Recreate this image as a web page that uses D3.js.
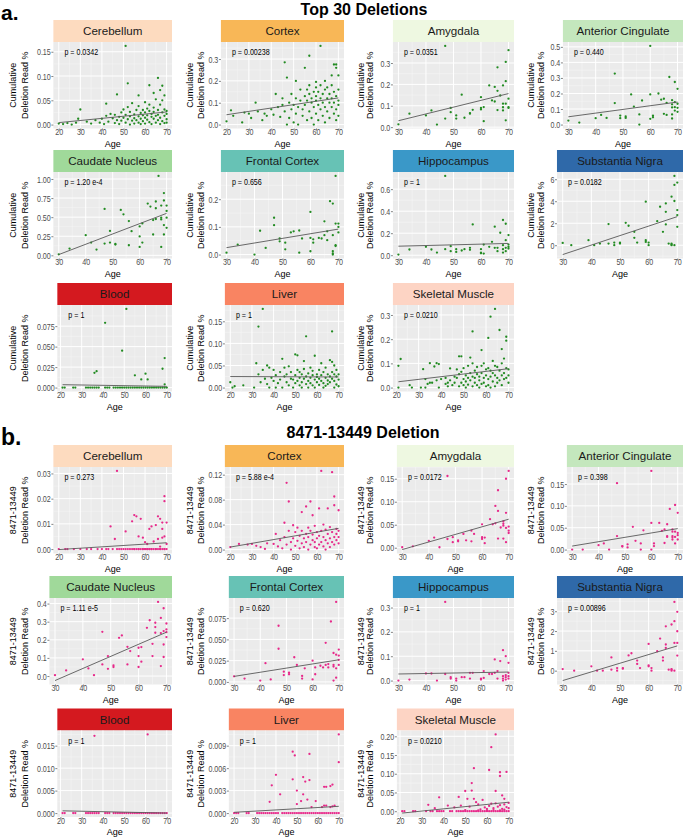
<!DOCTYPE html>
<html>
<head>
<meta charset="utf-8">
<script src="https://cdn.jsdelivr.net/npm/d3@7"></script>
<style>
body{margin:0;background:#fff;}
svg{display:block;font-family:'Liberation Sans',Arial,Helvetica,sans-serif;}
</style>
</head>
<body>
<div id="chart"></div>
<script>
// ---------- data ----------
const tissues = ['Cerebellum','Cortex','Amygdala','Anterior Cingulate','Caudate Nucleus','Frontal Cortex',
                 'Hippocampus','Substantia Nigra','Blood','Liver','Skeletal Muscle'];
const stripColors = ['#fddbbf','#f8b757','#eef8e1','#c4e7bd','#a0d99a','#67c2b5',
                     '#3a98c8','#2f69a9','#d4191f','#f98462','#fdd4c4'];

const pTop30 = ['0.0342','0.00238','0.0351','0.440','1.20 e-4','0.656','1','0.0182','1','1','0.0210'];
const pDel   = ['0.273','5.88 e-4','0.0172','0.398','1.11 e-5','0.620','1','0.00896','1','1','0.0210'];

const ageTicks = [20,30,40,50,60,70];

const yTicksTop30 = [
  ['0.00','0.05','0.10','0.15'], ['0.0','0.1','0.2','0.3'], ['0.0','0.1','0.2','0.3'],
  ['0.0','0.1','0.2','0.3','0.4','0.5'], ['0.00','0.25','0.50','0.75','1.00'], ['0.0','0.1','0.2'],
  ['0.0','0.2','0.4','0.6'], ['0','2','4','6'], ['0.000','0.025','0.050','0.075'],
  ['0.00','0.05','0.10','0.15'], ['0.0','0.1','0.2','0.3']
];
const yTicksDel = [
  ['0.00','0.01','0.02','0.03'], ['0.00','0.04','0.08','0.12'], ['0.00','0.05','0.10','0.15'],
  ['0.00','0.05','0.10','0.15'], ['0.0','0.1','0.2','0.3','0.4'], ['0.000','0.025','0.050','0.075'],
  ['0.0','0.1','0.2','0.3'], ['0','1','2','3'], ['0.000','0.005','0.010','0.015'],
  ['0.000','0.003','0.006','0.009'], ['0.00','0.05','0.10','0.15','0.20']
];

// fitted line: value at youngest age, value at oldest age
const lineTop30 = [[0.004,0.026],[0.045,0.122],[0.03,0.157],[0.05,0.145],[0.01,0.55],[0.025,0.092],
                   [0.082,0.107],[-0.85,2.6],[0.0035,0.0015],[0.025,0.024],[0.024,0.078]];
const lineDel = [[-0.0002,0.0025],[0.004,0.034],[-0.004,0.062],[0.008,0.048],[-0.025,0.242],[0.0065,0.026],
                 [0.027,0.035],[-0.5,1.25],[0.0005,0.0],[0.0001,0.0009],[-0.005,0.024]];

// [age, read %]
const t30Cerebellum = [[51,0.162],[66,0.096],[52,0.085],[62,0.081],[68,0.08],[47,0.062],[67,0.071],[69,0.06],[42,0.043],[30,0.031],[64,0.065],[57,0.06],
  [20,0.002],[22,0.001],[24,0.003],[26,0.0],[28,0.004],[29,0.012],[33,0.006],[35,0.002],[37,0.009],[39,0.004],[40,0.012],[41,0.001],[42,0.018],[43,0.006],[44,0.022],[45,0.013],[46,0.003],[46,0.02],[47,0.009],[48,0.016],[48,0.001],[49,0.025],[49,0.008],[50,0.014],[50,0.031],[51,0.004],[51,0.02],[52,0.011],[52,0.036],[53,0.0],[53,0.017],[53,0.026],[54,0.008],[54,0.044],[55,0.013],[55,0.021],[55,0.002],[56,0.03],[56,0.009],[57,0.017],[57,0.038],[57,0.004],[58,0.024],[58,0.012],[58,0.001],[59,0.03],[59,0.019],[59,0.007],[60,0.046],[60,0.014],[60,0.025],[60,0.002],[61,0.033],[61,0.01],[61,0.019],[62,0.005],[62,0.028],[62,0.041],[63,0.016],[63,0.001],[63,0.022],[64,0.012],[64,0.035],[64,0.026],[65,0.004],[65,0.018],[65,0.052],[66,0.009],[66,0.03],[66,0.02],[67,0.014],[67,0.041],[67,0.001],[68,0.025],[68,0.007],[68,0.05],[69,0.018],[69,0.031],[69,0.003],[70,0.022],[70,0.011],[70,0.028],[70,0.004]];
const t30Cortex = [[62,0.36],[57,0.315],[46,0.285],[55,0.26],[47,0.215],[68,0.275],[69,0.275],[69,0.26],[67,0.225],[70,0.225],[64,0.2],[60,0.195],[51,0.2],
  [20,0.015],[22,0.065],[23,0.04],[27,0.01],[28,0.055],[30,0.05],[31,0.03],[33,0.1],[34,0.06],[36,0.02],[37,0.05],[38,0.04],[40,0.07],[41,0.045],[42,0.14],[43,0.08],[44,0.035],[45,0.09],[45,0.12],[46,0.06],[47,0.0],[48,0.1],[48,0.03],[49,0.07],[49,0.14],[50,0.01],[50,0.09],[51,0.05],[51,0.12],[52,0.0],[52,0.08],[53,0.16],[53,0.11],[54,0.04],[54,0.07],[55,0.13],[55,0.09],[56,0.02],[56,0.16],[56,0.11],[57,0.06],[57,0.14],[57,0.18],[58,0.03],[58,0.1],[58,0.12],[59,0.08],[59,0.15],[59,0.0],[60,0.05],[60,0.11],[60,0.17],[60,0.13],[61,0.09],[61,0.02],[61,0.15],[62,0.07],[62,0.12],[62,0.18],[63,0.04],[63,0.1],[63,0.14],[64,0.08],[64,0.16],[64,0.01],[65,0.12],[65,0.06],[65,0.17],[66,0.1],[66,0.03],[66,0.14],[67,0.08],[67,0.18],[67,0.12],[68,0.05],[68,0.15],[68,0.1],[69,0.07],[69,0.13],[69,0.02],[70,0.09],[70,0.16],[70,0.11],[70,0.04]];
const t30Amygdala = [[30,0.013],[34,0.063],[40,0.055],[42,0.078],[44,0.012],[47,0.38],[47,0.04],[49,0.07],[49,0.09],[51,0.055],[51,0.04],[53,0.152],[54,0.044],[56,0.066],[56,0.063],[57,0.081],[60,0.14],[60,0.09],[60,0.083],[61,0.094],[61,0.028],[63,0.195],[64,0.125],[65,0.12],[65,0.188],[66,0.28],[66,0.17],[66,0.08],[67,0.148],[68,0.195],[68,0.093],[68,0.078],[68,0.11],[69,0.305],[69,0.215],[69,0.11],[69,0.032],[70,0.36],[70,0.133],[70,0.094],[70,0.09]];
const t30AntCing = [[30,0.026],[34,0.013],[40,0.041],[42,0.062],[44,0.043],[47,0.328],[47,0.138],[49,0.058],[49,0.041],[51,0.052],[51,0.043],[53,0.194],[54,0.116],[56,0.065],[56,0.0],[57,0.155],[60,0.506],[60,0.194],[60,0.037],[61,0.058],[61,0.047],[63,0.2],[64,0.16],[65,0.166],[65,0.069],[66,0.14],[66,0.062],[67,0.306],[68,0.157],[68,0.13],[68,0.11],[68,0.065],[68,0.039],[69,0.274],[69,0.144],[69,0.112],[69,0.09],[70,0.23],[70,0.134],[70,0.108],[70,0.082]];
const t30Caudate = [[30,0.013],[34,0.088],[40,0.264],[42,0.167],[44,0.075],[47,0.608],[47,0.154],[49,0.32],[49,0.167],[51,0.15],[51,0.141],[53,0.595],[54,0.537],[56,0.449],[56,0.132],[57,0.317],[60,0.379],[60,0.247],[60,0.11],[61,0.167],[61,0.418],[63,0.678],[64,0.639],[65,0.273],[65,0.462],[66,0.705],[66,0.617],[66,0.476],[67,1.04],[68,0.652],[68,0.11],[68,0.493],[68,0.47],[69,0.815],[69,0.718],[69,0.396],[69,0.273],[70,0.652],[70,0.581],[70,0.493],[70,0.36]];
const t30Frontal = [[30,0.007],[34,0.036],[40,0.0],[42,0.086],[44,0.024],[47,0.133],[47,0.106],[49,0.058],[49,0.048],[51,0.043],[51,0.019],[53,0.08],[54,0.084],[56,0.087],[56,0.007],[57,0.058],[60,0.154],[60,0.06],[60,0.012],[61,0.055],[61,0.043],[63,0.06],[64,0.058],[65,0.12],[65,0.07],[66,0.084],[66,0.052],[67,0.193],[68,0.184],[68,0.07],[68,0.012],[68,0.004],[68,0.0],[69,0.284],[69,0.112],[69,0.034],[69,0.031],[70,0.112],[70,0.1],[70,0.08]];
const t30Hippo = [[30,0.006],[34,0.052],[40,0.076],[42,0.052],[44,0.024],[47,0.72],[47,0.055],[49,0.082],[49,0.037],[51,0.055],[51,0.03],[53,0.043],[54,0.055],[56,0.067],[56,0.049],[57,0.28],[60,0.055],[60,0.024],[60,0.018],[61,0.015],[61,0.097],[63,0.076],[64,0.122],[65,0.259],[65,0.067],[66,0.067],[66,0.037],[67,0.204],[68,0.32],[68,0.091],[68,0.055],[68,0.024],[69,0.286],[69,0.137],[69,0.067],[69,0.037],[70,0.183],[70,0.097],[70,0.076],[70,0.061]];
const t30SN = [[30,0.21],[33,0.0],[39,0.46],[41,0.0],[43,0.15],[46,1.92],[46,0.15],[48,0.24],[48,0.0],[50,0.24],[50,0.15],[52,2.04],[53,1.77],[55,1.22],[55,0.67],[56,0.24],[59,3.96],[59,0.46],[59,0.3],[60,0.24],[60,0.0],[63,2.19],[64,3.5],[65,1.22],[66,3.04],[66,1.89],[66,3.8],[67,0.15],[68,4.41],[68,0.15],[68,0.0],[68,0.06],[69,6.3],[69,5.48],[69,4.02],[69,0.0],[70,5.7],[70,3.2],[70,2.74],[70,1.67]];
const t30Blood = [[21,0],[22,0],[26,0],[27,0],[32,0],[33,0],[34,0],[35,0],[36,0.018],[37,0.02],[36,0],[37,0],[38,0],[41,0.079],[41,0],[42,0],[43,0],[45,0],[46,0],[47,0],[48,0],[49,0.045],[49,0],[50,0],[51,0.096],[51,0],[52,0],[53,0],[54,0],[55,0.015],[55,0],[56,0],[57,0],[58,0.01],[58,0],[59,0],[60,0.017],[60,0],[61,0.01],[61,0],[62,0],[63,0],[64,0],[65,0],[66,0],[67,0],[68,0.023],[68,0],[69,0.036],[69,0.004],[69,0],[70,0]];
const t30Liver = [[20,0.012],[21,0.0],[22,0.003],[26,0.005],[31,0.0],[32,0.055],[33,0.138],[33,0.03],[34,0.012],[35,0.178],[35,0.04],[36,0.02],[37,0.05],[37,0.008],[38,0.0],[38,0.045],[39,0.022],[40,0.015],[40,0.04],[41,0.0],[41,0.028],[42,0.01],[43,0.035],[43,0.018],[44,0.065],[44,0.0],[45,0.045],[45,0.025],[46,0.012],[46,0.03],[47,0.048],[47,0.005],[48,0.02],[48,0.035],[49,0.0],[49,0.018],[50,0.075],[50,0.028],[50,0.01],[51,0.073],[51,0.04],[51,0.015],[52,0.022],[52,0.005],[52,0.035],[53,0.012],[53,0.03],[53,0.0],[54,0.06],[54,0.02],[54,0.042],[55,0.116],[55,0.008],[55,0.025],[56,0.032],[56,0.015],[56,0.0],[57,0.045],[57,0.022],[57,0.01],[58,0.028],[58,0.005],[58,0.038],[59,0.072],[59,0.018],[59,0.0],[60,0.03],[60,0.012],[60,0.024],[61,0.04],[61,0.006],[61,0.02],[62,0.055],[62,0.015],[62,0.028],[63,0.0],[63,0.035],[63,0.01],[64,0.022],[64,0.045],[64,0.004],[65,0.03],[65,0.016],[65,0.008],[66,0.062],[66,0.025],[66,0.012],[67,0.127],[67,0.058],[67,0.02],[67,0.035],[68,0.05],[68,0.03],[68,0.0],[68,0.015],[69,0.025],[69,0.04],[69,0.007],[70,0.018],[70,0.03],[70,0.003]];
const t30Muscle = [[21,0.09],[21,0.0],[22,0.118],[26,0.01],[27,0.0],[31,0.0],[32,0.076],[33,0.035],[33,0.0],[34,0.015],[35,0.101],[35,0.02],[36,0.02],[37,0.087],[38,0.101],[38,0.03],[39,0.097],[39,0.0],[40,0.035],[42,0.04],[42,0.015],[43,0.02],[43,0.005],[44,0.079],[44,0.03],[45,0.01],[46,0.045],[46,0.02],[47,0.075],[47,0.04],[48,0.129],[48,0.055],[48,0.005],[49,0.129],[49,0.065],[49,0.02],[50,0.035],[50,0.01],[50,0.08],[51,0.05],[51,0.0],[51,0.025],[52,0.09],[52,0.04],[52,0.012],[53,0.124],[53,0.06],[53,0.03],[54,0.232],[54,0.1],[54,0.045],[54,0.005],[55,0.07],[55,0.02],[55,0.04],[56,0.055],[56,0.085],[56,0.01],[57,0.045],[57,0.03],[57,0.0],[58,0.155],[58,0.09],[58,0.06],[58,0.015],[59,0.1],[59,0.04],[59,0.02],[60,0.075],[60,0.05],[60,0.005],[61,0.205],[61,0.08],[61,0.035],[61,0.01],[62,0.293],[62,0.07],[62,0.045],[62,0.0],[63,0.11],[63,0.06],[63,0.025],[64,0.325],[64,0.09],[64,0.05],[64,0.005],[65,0.085],[65,0.04],[65,0.02],[66,0.238],[66,0.07],[66,0.03],[67,0.159],[67,0.1],[67,0.05],[67,0.01],[68,0.12],[68,0.06],[68,0.035],[69,0.21],[69,0.194],[69,0.08],[69,0.04],[70,0.075],[70,0.05],[70,0.02]];

const delCerebellum = [[47,0.031],[69,0.021],[69,0.019],[55,0.0135],[56,0.013],[58,0.012],[66,0.013],[67,0.012],[68,0.0105],[70,0.0105],[65,0.0095],[63,0.009],[44,0.009],[54,0.011],[51,0.007],[57,0.005],[62,0.008],[46,0.004],[59,0.0045],[60,0.0027],[68,0.008],[68,0.0045],[69,0.005],[70,0.002],[64,0.003],[61,0.002],[66,0.004],[67,0.001],
  [20,0],[23,0],[24,0],[27,0],[30,0],[33,0],[35,0],[38,0],[40,0],[42,0],[43,0],[45,0],[47,0],[48,0],[49,0],[50,0],[51,0],[52,0],[53,0],[54,0],[55,0],[56,0],[57,0],[58,0],[59,0],[60,0],[61,0],[62,0],[63,0],[64,0],[65,0],[66,0],[67,0],[68,0],[69,0],[70,0],[55,0],[57,0],[59,0],[61,0],[63,0],[65,0],[67,0],[69,0],[60,0],[62,0]];
const delCortex = [[20,0.004],[24,0.009],[28,0.008],[30,0.009],[32,0.006],[34,0.004],[36,0.001],[37,0.01],[40,0.009],[41,0.025],[42,0.005],[43,0.015],[44,0.002],[45,0.043],[45,0.02],[46,0.107],[46,0.008],[47,0.077],[47,0.03],[48,0.012],[48,0.0],[49,0.039],[49,0.018],[50,0.006],[50,0.028],[51,0.014],[51,0.035],[52,0.002],[52,0.022],[53,0.06],[53,0.01],[53,0.03],[54,0.018],[54,0.004],[55,0.069],[55,0.025],[55,0.012],[56,0.035],[56,0.0],[56,0.02],[57,0.077],[57,0.008],[57,0.03],[58,0.055],[58,0.015],[58,0.024],[59,0.004],[59,0.038],[59,0.012],[60,0.028],[60,0.018],[60,0.002],[61,0.066],[61,0.022],[61,0.008],[62,0.126],[62,0.03],[62,0.012],[63,0.04],[63,0.005],[63,0.02],[64,0.032],[64,0.015],[64,0.0],[65,0.066],[65,0.025],[65,0.01],[66,0.036],[66,0.018],[66,0.004],[67,0.124],[67,0.028],[67,0.012],[68,0.085],[68,0.071],[68,0.02],[68,0.008],[69,0.033],[69,0.015],[69,0.025],[70,0.063],[70,0.03],[70,0.01],[70,0.02]];
const delAmygdala = [[30,0.001],[34,0.003],[40,0.015],[42,0.022],[44,0.001],[47,0.156],[47,0.019],[49,0.023],[49,0.012],[51,0.016],[51,0.014],[53,0.03],[54,0.016],[56,0.037],[56,0.014],[57,0.03],[60,0.051],[60,0.019],[60,0.023],[61,0.022],[61,0.01],[63,0.062],[64,0.051],[65,0.091],[65,0.053],[66,0.125],[66,0.08],[66,0.02],[67,0.044],[68,0.057],[68,0.052],[68,0.048],[68,0.02],[69,0.15],[69,0.076],[69,0.043],[69,0.012],[70,0.167],[70,0.046],[70,0.037],[70,0.032]];
const delAntCing = [[30,0.0],[34,0.0],[40,0.01],[42,0.014],[44,0.0],[47,0.152],[47,0.031],[49,0.008],[49,0.007],[51,0.012],[51,0.005],[53,0.052],[54,0.02],[56,0.014],[56,0.0],[57,0.044],[60,0.18],[60,0.061],[60,0.0],[61,0.014],[61,0.008],[63,0.061],[64,0.043],[65,0.046],[65,0.015],[66,0.058],[66,0.031],[66,0.029],[67,0.093],[68,0.046],[68,0.041],[68,0.031],[68,0.028],[68,0.023],[69,0.102],[69,0.041],[69,0.014],[69,0.029],[70,0.084],[70,0.038],[70,0.033],[70,0.023]];
const delCaudate = [[30,0.005],[34,0.031],[40,0.092],[42,0.042],[44,0.005],[47,0.244],[47,0.064],[49,0.11],[49,0.04],[51,0.059],[51,0.05],[53,0.211],[54,0.224],[56,0.161],[56,0.064],[57,0.138],[60,0.156],[60,0.11],[60,0.05],[61,0.16],[61,0.079],[63,0.266],[64,0.308],[65,0.178],[65,0.11],[66,0.294],[66,0.27],[66,0.239],[67,0.409],[68,0.321],[68,0.237],[68,0.055],[69,0.374],[69,0.248],[69,0.174],[69,0.105],[70,0.29],[70,0.257],[70,0.242],[70,0.215]];
const delFrontal = [[30,0.0066],[34,0.004],[40,0.0016],[42,0.022],[44,0.003],[47,0.066],[47,0.039],[49,0.012],[49,0.008],[51,0.009],[51,0.011],[53,0.029],[54,0.02],[56,0.004],[56,0.007],[57,0.016],[60,0.025],[60,0.003],[61,0.017],[61,0.009],[63,0.019],[64,0.017],[65,0.046],[65,0.02],[66,0.021],[66,0.017],[67,0.071],[68,0.034],[68,0.02],[68,0.018],[68,0.0016],[69,0.094],[69,0.032],[69,0.016],[69,0.005],[70,0.038],[70,0.031],[70,0.026],[70,0.02]];
const delHippo = [[30,0.0],[34,0.004],[40,0.029],[42,0.029],[44,0.0],[47,0.323],[47,0.027],[49,0.014],[49,0.008],[51,0.008],[51,0.0],[53,0.014],[54,0.014],[56,0.032],[56,0.008],[57,0.032],[60,0.008],[60,0.004],[61,0.039],[61,0.011],[63,0.027],[64,0.027],[65,0.087],[65,0.032],[66,0.039],[66,0.008],[67,0.08],[68,0.125],[68,0.018],[68,0.008],[68,0.0],[69,0.1],[69,0.022],[69,0.014],[69,0.004],[70,0.073],[70,0.032],[70,0.018],[70,0.008]];
const delSN = [[30,0.08],[34,0.0],[40,0.22],[42,0.0],[44,0.0],[47,0.67],[47,0.05],[49,0.13],[49,0.0],[51,0.13],[51,0.1],[53,0.77],[54,0.88],[56,0.51],[56,0.34],[57,0.13],[60,1.35],[60,0.27],[60,0.22],[61,0.13],[61,0.0],[63,0.98],[64,1.62],[65,0.67],[65,0.51],[66,2.24],[66,1.32],[66,1.15],[67,0.05],[68,2.33],[68,0.08],[68,0.05],[68,0.0],[69,3.47],[69,2.5],[69,1.4],[69,0.0],[70,2.97],[70,1.99],[70,1.4],[70,0.76]];
const delBlood = [[36,0.0172],[61,0.0175],[21,0],[22,0],[26,0],[27,0],[32,0],[33,0],[34,0],[35,0],[36,0],[37,0],[38,0],[41,0],[42,0],[43,0],[45,0],[46,0],[47,0],[48,0],[49,0],[50,0],[51,0],[52,0],[53,0],[54,0],[55,0],[56,0],[57,0],[58,0],[59,0],[60,0],[61,0],[62,0],[63,0],[64,0],[65,0],[66,0],[67,0],[68,0],[69,0],[70,0]];
const delLiver = [[70,0.0105],[70,0.0068],[48,0.0082],[49,0.0077],[56,0.0079],[40,0.0051],[38,0.0037],[42,0.0025],[37,0.0015],[48,0.0045],[50,0.003],[50,0.0012],[52,0.0016],[53,0.0025],[54,0.0042],[56,0.0044],[53,0.0048],[55,0.0018],[59,0.0016],[63,0.0035],[64,0.0035],[66,0.0036],[67,0.0038],[63,0.001],[64,0.001],[66,0.0008],[67,0.0009],[68,0.001],[62,0.0008],[57,0.0008],
  [20,0],[21,0],[22,0],[26,0],[27,0],[31,0],[32,0],[33,0],[34,0],[35,0],[36,0],[37,0],[38,0],[39,0],[40,0],[41,0],[43,0],[44,0],[45,0],[46,0],[47,0],[48,0],[49,0],[50,0],[51,0],[52,0],[53,0],[54,0],[55,0],[56,0],[57,0],[58,0],[59,0],[60,0],[61,0],[62,0],[63,0],[64,0],[65,0],[66,0],[67,0],[68,0],[69,0],[70,0]];
const delMuscle = [[64,0.205],[62,0.171],[54,0.115],[61,0.11],[66,0.104],[66,0.094],[69,0.105],[53,0.075],[53,0.055],[50,0.054],[64,0.054],[47,0.038],[38,0.037],[67,0.042],[68,0.033],[58,0.03],[54,0.033],[51,0.033],[33,0.017],[42,0.015],[55,0.024],[64,0.021],[36,0.008],[45,0.01],[48,0.015],[52,0.012],[56,0.018],[57,0.005],[59,0.01],[60,0.006],[61,0.014],[62,0.02],[63,0.008],[65,0.012],[66,0.016],[67,0.006],[68,0.018],[69,0.011],[70,0.022],[70,0.008],
  [21,0],[22,0],[26,0],[27,0],[32,0],[34,0],[35,0],[37,0],[38,0],[39,0],[40,0],[43,0],[44,0],[46,0],[47,0],[48,0],[49,0],[50,0],[51,0],[52,0],[53,0],[54,0],[55,0],[56,0],[57,0],[58,0],[59,0],[60,0],[61,0],[62,0],[63,0],[64,0],[65,0],[66,0],[67,0],[68,0],[69,0],[70,0],[50,0.003],[56,0.002],[60,0.002],[63,0.003],[66,0.002],[68,0.004]];

const ptsTop30 = [t30Cerebellum,t30Cortex,t30Amygdala,t30AntCing,t30Caudate,t30Frontal,t30Hippo,t30SN,t30Blood,t30Liver,t30Muscle];
const ptsDel = [delCerebellum,delCortex,delAmygdala,delAntCing,delCaudate,delFrontal,delHippo,delSN,delBlood,delLiver,delMuscle];

// ---------- layout ----------
const W = 685, H = 837;
const PH = 86.5, SH = 22;           // panel and strip heights
const labelLeft = [39.5, 211, 383, 553];
const plotRight = [172, 344, 514, 683];
const titleX = [[13,25],[190,201],[361,370],[531,541]];
const NARROW = 0.75, TICK_FS = 9.5;

const sections = [
  {tops:[42,172,305], ticks:yTicksTop30, lines:lineTop30, pts:ptsTop30, p:pTop30,
   color:'#228b22', ytitle:['Cumulative','Deletion Read %']},
  {tops:[467,598,730.5], ticks:yTicksDel, lines:lineDel, pts:ptsDel, p:pDel,
   color:'#e7298a', ytitle:['8471-13449','Deletion Read %']}
];

const svg = d3.select('#chart').append('svg').attr('width', W).attr('height', H);

function measure(s){
  const t = svg.append('text').style('font-size', TICK_FS + 'px').text(s);
  const w = t.node().getComputedTextLength();
  t.remove();
  return w * NARROW;
}

function minorOf(vals, dom){
  const step = vals[1] - vals[0];
  const m = vals.map(v => v - step/2).concat([vals[vals.length-1] + step/2]);
  return m.filter(v => v > dom[0] && v < dom[1]);
}

function drawPanel(sec, i){
  const col = i % 4, row = Math.floor(i / 4);
  const top = sec.tops[row], bottom = top + PH;
  const labels = sec.ticks[i], yVals = labels.map(Number);
  const left = labelLeft[col] + d3.max(labels, measure);
  const right = plotRight[col];
  const pts = sec.pts[i], line = sec.lines[i];

  const [a0, a1] = d3.extent(pts, d => d[0]);
  const [v0, v1] = d3.extent(pts.map(d => d[1]).concat(line));
  const px = (a1 - a0) * 0.05, py = (v1 - v0) * 0.05;
  const x = d3.scaleLinear().domain([a0 - px, a1 + px]).range([left, right]);
  const y = d3.scaleLinear().domain([v0 - py, v1 + py]).range([bottom, top]);
  const xVals = ageTicks.filter(a => a >= x.domain()[0] && a <= x.domain()[1]);

  const g = svg.append('g');
  // strip
  g.append('rect').attr('x', left).attr('y', top - SH).attr('width', right - left).attr('height', SH)
    .attr('fill', stripColors[i]);
  g.append('text').attr('x', (left + right)/2).attr('y', top - SH/2 + 4.2)
    .attr('text-anchor', 'middle').style('font-size', '11.6px').attr('fill', '#1a1a1a').text(tissues[i]);
  // panel
  g.append('rect').attr('x', left).attr('y', top).attr('width', right - left).attr('height', PH).attr('fill', '#ebebeb');
  const grid = g.append('g');
  minorOf(yVals, y.domain()).forEach(v => grid.append('line').attr('x1', left).attr('x2', right)
    .attr('y1', y(v)).attr('y2', y(v)).attr('stroke', '#f6f6f6').attr('stroke-width', 0.5));
  minorOf(xVals, x.domain()).forEach(v => grid.append('line').attr('y1', top).attr('y2', bottom)
    .attr('x1', x(v)).attr('x2', x(v)).attr('stroke', '#f6f6f6').attr('stroke-width', 0.5));
  yVals.forEach(v => grid.append('line').attr('x1', left).attr('x2', right)
    .attr('y1', y(v)).attr('y2', y(v)).attr('stroke', '#fff').attr('stroke-width', 1));
  xVals.forEach(v => grid.append('line').attr('y1', top).attr('y2', bottom)
    .attr('x1', x(v)).attr('x2', x(v)).attr('stroke', '#fff').attr('stroke-width', 1));

  // points
  g.append('g').selectAll('circle').data(pts).enter().append('circle')
    .attr('cx', d => x(d[0])).attr('cy', d => y(d[1])).attr('r', 1.15).attr('fill', sec.color);
  // fitted line
  g.append('line').attr('x1', x(a0)).attr('y1', y(line[0])).attr('x2', x(a1)).attr('y2', y(line[1]))
    .attr('stroke', '#595959').attr('stroke-width', 0.9);

  // p value
  g.append('text').attr('transform', `translate(${left + 11},${top + 13}) scale(${NARROW},1)`)
    .style('font-size', TICK_FS + 'px').attr('fill', '#000').text('p = ' + sec.p[i]);

  // axes
  const ya = g.append('g').attr('transform', `translate(${left},0)`)
    .call(d3.axisLeft(y).tickValues(yVals).tickFormat((d, k) => labels[k]).tickSize(2).tickPadding(0.6));
  const xa = g.append('g').attr('transform', `translate(0,${bottom})`)
    .call(d3.axisBottom(x).tickValues(xVals).tickSize(2).tickPadding(0));
  [ya, xa].forEach(a => {
    a.select('.domain').remove();
    a.selectAll('line').attr('stroke', '#333').attr('stroke-width', 0.6);
    a.selectAll('text').style('font-size', TICK_FS + 'px').attr('fill', '#4d4d4d')
      .style('font-family', "'Liberation Sans',Arial,sans-serif");
  });
  ya.selectAll('text').attr('x', -2.6 / NARROW).attr('transform', `scale(${NARROW},1)`);
  xa.selectAll('text').attr('dy', '0.5em').attr('transform', `scale(${NARROW},1)`);

  // titles
  g.append('text').attr('x', (left + right)/2).attr('y', bottom + 18).attr('text-anchor', 'middle')
    .style('font-size', '9px').attr('fill', '#000').text('Age');
  sec.ytitle.forEach((s, k) => {
    g.append('text').attr('transform', `translate(${titleX[col][k]},${(top + bottom)/2}) rotate(-90)`)
      .attr('text-anchor', 'middle').attr('dy', '0.35em').style('font-size', '9px').attr('fill', '#000').text(s);
  });
}

sections.forEach(sec => tissues.forEach((t, i) => drawPanel(sec, i)));

// section headers
svg.append('text').attr('x', 1).attr('y', 19.5).style('font-size', '21px').style('font-weight', 'bold').text('a.');
svg.append('text').attr('x', 364).attr('y', 15).attr('text-anchor', 'middle')
  .style('font-size', '16px').style('font-weight', 'bold').text('Top 30 Deletions');
svg.append('text').attr('x', 1).attr('y', 445).style('font-size', '23px').style('font-weight', 'bold').text('b.');
svg.append('text').attr('x', 363).attr('y', 438).attr('text-anchor', 'middle')
  .style('font-size', '16px').style('font-weight', 'bold').text('8471-13449 Deletion');
</script>
</body>
</html>
